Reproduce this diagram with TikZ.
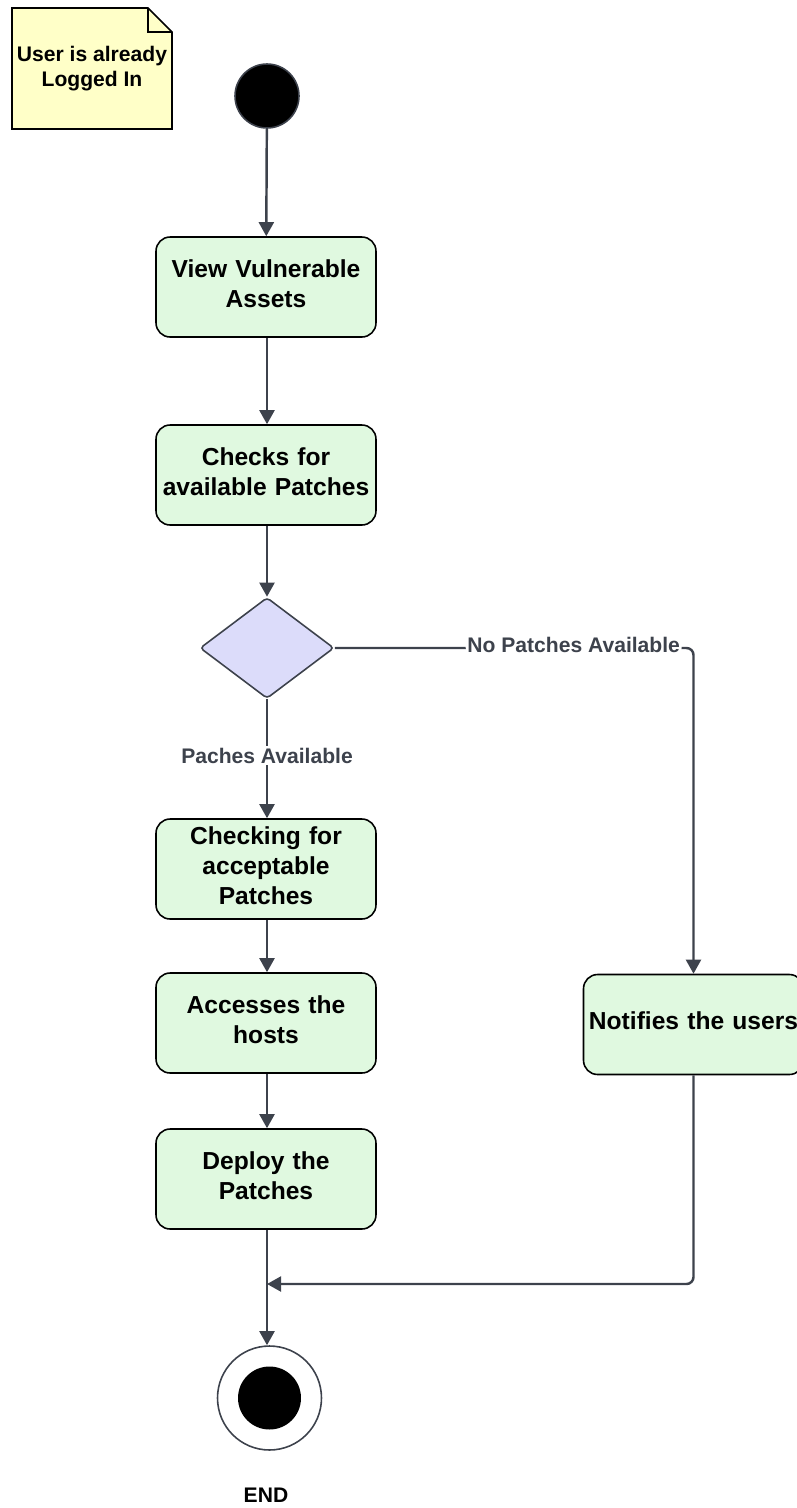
\documentclass[tikz,border=0pt]{standalone}
\usepackage{fontspec}
\setmainfont{Liberation Sans}
\usetikzlibrary{calc,shapes.geometric,arrows.meta}
\definecolor{linegray}{HTML}{3D424C}
\definecolor{actgreen}{HTML}{E0F9E0}
\definecolor{decblue}{HTML}{DCDCFA}
\definecolor{noteyellow}{HTML}{FFFFC8}
\begin{document}
\begin{tikzpicture}[x=0.02cm,y=-0.02cm,
    activity/.style={draw=black,line width=0.9pt,fill=actgreen,rounded corners=8pt,
        minimum width=4.40cm,minimum height=2.0cm,align=center,text width=4.2cm,inner xsep=2pt,
        font=\bfseries\fontsize{14}{17}\selectfont,execute at end node={\endgraf\vspace*{4pt}}},
    flow/.style={draw=linegray,line width=1.4pt,-{Triangle[length=8pt,width=8.5pt]}},
    guard/.style={fill=white,text=linegray,inner sep=1pt,yshift=1.6pt,font=\bfseries\fontsize{12}{14}\selectfont}]
    \useasboundingbox (0,0) rectangle (797,1508);
    \draw[line width=0.9pt,fill=noteyellow] (12,8) -- (148,8) -- (172,32) -- (172,129) -- (12,129) -- cycle;
    \draw[line width=0.9pt] (148,8) -- (148,32) -- (172,32);
    \node[align=center,font=\bfseries\fontsize{12}{14.2}\selectfont] (note) at (92,69) {User is already\\Logged In};
    \node[circle,fill=black,draw=linegray,line width=0.9pt,minimum size=1.28cm,inner sep=0] (start) at (267,96) {};
    \node[activity] (view) at (266,287) {View Vulnerable\\Assets};
    \node[activity] (check) at (266,475) {Checks for\\available Patches};
    \node[diamond,draw=linegray,line width=0.9pt,fill=decblue,rounded corners=2pt,inner sep=0,
        minimum width=2.68cm,minimum height=2.02cm] (dec) at (267,648) {};
    \node[activity] (accept) at (266,869) {Checking for\\acceptable\\Patches};
    \node[activity] (hosts) at (266,1023) {Accesses the\\hosts};
    \node[activity] (deploy) at (266,1179) {Deploy the\\Patches};
    \node[activity] (notify) at (693.5,1024.5) {Notifies the users};
    \node[circle,draw=linegray,line width=0.9pt,fill=white,minimum size=2.08cm,inner sep=0] (end) at (269.5,1398) {};
    \node[circle,fill=black,minimum size=1.26cm,inner sep=0] (endin) at (end.center) {};
    \node[font=\bfseries\fontsize{12}{14}\selectfont] (endlbl) at (266,1495) {END};
    \coordinate (merge) at (267,1284);
    \draw[flow] (start) -- (view);
    \draw[flow] (view.south -| start) -- (check.north -| start);
    \draw[flow] (check.south -| start) -- (dec.north);
    \draw[flow] (dec.south) -- node[guard] {Paches Available} (accept.north -| dec);
    \draw[flow,rounded corners=4pt] (dec.east) -| node[guard,pos=0.333] {No Patches Available} (notify.north);
    \draw[flow] (accept.south -| start) -- (hosts.north -| start);
    \draw[flow] (hosts.south -| start) -- (deploy.north -| start);
    \draw[flow] (deploy.south -| start) -- (end.north -| start);
    \draw[flow,rounded corners=4pt] (notify.south) |- (merge);
\end{tikzpicture}
\end{document}
